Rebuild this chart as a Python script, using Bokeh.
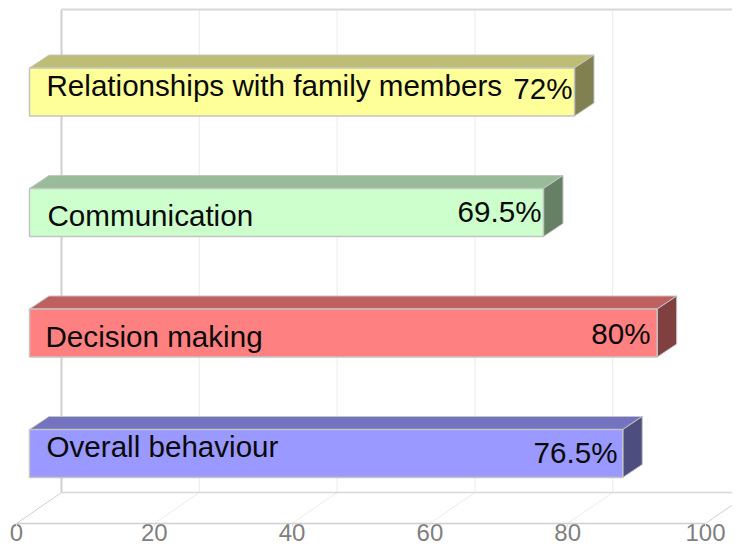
from bokeh.plotting import figure
from bokeh.models import Range1d, FixedTicker
from bokeh.core.properties import value
from bokeh.embed import file_html
from bokeh.resources import INLINE

categories = ["Overall behaviour", "Decision making", "Communication", "Relationships with family members"]
axis_values = [86.1, 91.1, 74.6, 79.1]
percent_labels = ["76.5%", "80%", "69.5%", "72%"]
positions = [0, 1, 2, 3]
ticks = [0, 20, 40, 60, 80, 100]
tick_labels = ["0", "20", "40", "60", "80", "100"]
front_colors = ["#9999FF", "#FF8080", "#CCFFCC", "#FFFF99"]
top_colors = ["#7373BF", "#BF6060", "#99BB99", "#BDBD75"]
side_colors = ["#4D4D80", "#804040", "#668066", "#808050"]

# pixel nudges of the hand-placed labels
name_x = [46, 45, 47, 46]
name_dy = [-7, 3, 3, -6.5]
pct_right = [617, 650, 541, 572]
pct_dy = [-1, 0.5, -1.5, -3.5]

PX_X = 6.89
PX_Y = 120.5
WIDTH, HEIGHT = 732, 543
FLOOR_PX = 523
ORIGIN = 16
x0 = -ORIGIN / PX_X
y0 = -(FLOOR_PX - 453) / PX_Y
y_bottom = -(HEIGHT - 453) / PX_Y
wall_dx, wall_dy = 45 / PX_X, (FLOOR_PX - 492) / PX_Y
bar_off = 13 / PX_X
bar_h = 48 / PX_Y
bar_dx, bar_dy = 19.5 / PX_X, 13 / PX_Y
y_top = y0 + (FLOOR_PX - 9) / PX_Y

p = figure(width=WIDTH, height=HEIGHT,
           x_range=Range1d(x0, x0 + WIDTH / PX_X), y_range=Range1d(y_bottom, y_bottom + HEIGHT / PX_Y),
           output_backend="svg", toolbar_location=None, min_border=0,
           outline_line_color=None, background_fill_color="white", border_fill_color="white")
p.grid.visible = False
p.yaxis.visible = False
ax = p.xaxis[0]
ax.fixed_location = y0
ax.ticker = FixedTicker(ticks=ticks)
ax.bounds = (0, 100)
ax.axis_line_color = "#cfcfcf"
ax.axis_line_width = 1.5
ax.major_tick_line_color = "#e0e0e0"
ax.major_tick_out = 3
ax.major_tick_in = 0
ax.minor_tick_line_color = None
ax.major_label_overrides = {t: "" for t in ticks}

# tick labels sit as high as the page needs to keep them whole
p.text(ticks, [y_bottom] * len(ticks), text=tick_labels, text_font=value("Liberation Sans"),
       text_font_size="24px", text_color="#808080", text_align="center",
       text_baseline="middle", y_offset=-11)

# wall grid and floor
for t in ticks:
    edge = t in (0, 100)
    p.line([t + wall_dx, t + wall_dx], [y0 + wall_dy, y_top],
           line_color="#cfcfcf" if t == 0 else "#ebebeb", line_width=2 if t == 0 else 1)
    p.line([t, t + wall_dx], [y0, y0 + wall_dy],
           line_color="#cfcfcf" if edge else "#ebebeb", line_width=1)
p.line([wall_dx, 100 + wall_dx], [y_top, y_top], line_color="#d8d8d8", line_width=2)
p.line([wall_dx, 100 + wall_dx], [y0 + wall_dy, y0 + wall_dy], line_color="#d8d8d8", line_width=1.5)

# 3D bars
edge = "#c4c4c4"
for y, v, fc, tc, sc in zip(positions, axis_values, front_colors, top_colors, side_colors):
    l, r = bar_off, bar_off + v
    b, t = y - bar_h / 2, y + bar_h / 2
    p.patch([l, l + bar_dx, r + bar_dx, r], [t, t + bar_dy, t + bar_dy, t],
            fill_color=tc, line_color=edge, line_width=1)
    p.patch([r, r + bar_dx, r + bar_dx, r], [t, t + bar_dy, b + bar_dy, b],
            fill_color=sc, line_color=edge, line_width=1)
    p.quad(left=l, right=r, bottom=b, top=t, fill_color=fc, line_color=edge, line_width=1.5)

# labels
for y, name, pct, nx, ndy, pr, pdy in zip(positions, categories, percent_labels,
                                          name_x, name_dy, pct_right, pct_dy):
    p.text([(nx - ORIGIN) / PX_X], [y], text=[name], text_font=value("Liberation Sans"),
           text_font_size="29.6px", text_color="#0a0a0a", text_align="left",
           text_baseline="middle", y_offset=ndy)
    p.text([(pr - ORIGIN) / PX_X], [y], text=[pct], text_font=value("Liberation Sans"),
           text_font_size="29.6px", text_color="#0a0a0a", text_align="right",
           text_baseline="middle", y_offset=pdy)

open("out.html", "w").write(file_html(p, INLINE))
